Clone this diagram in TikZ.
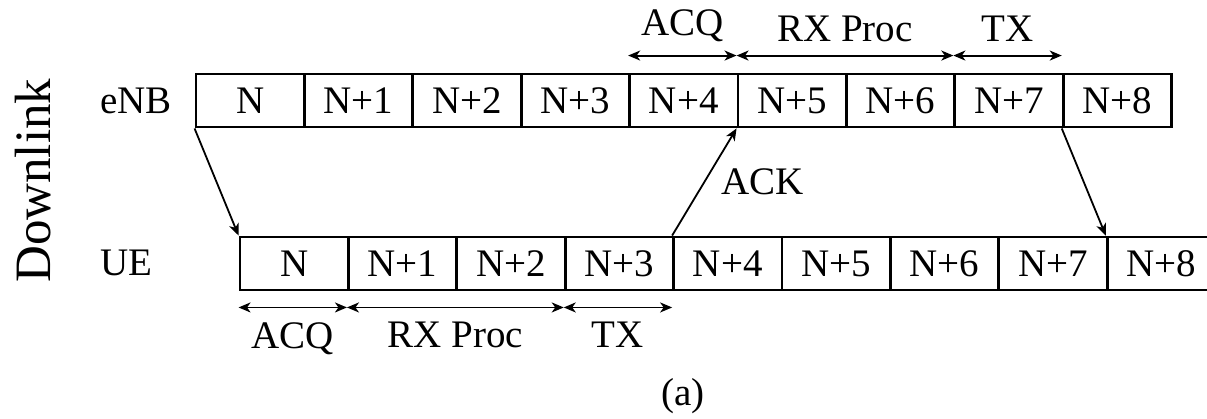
\documentclass[tikz,border=0pt]{standalone}
\usepackage{fontspec}
\setmainfont{Liberation Serif}
\usetikzlibrary{arrows.meta}

\begin{document}
\begin{tikzpicture}[x=1pt, y=-1pt,
  every node/.style={font=\fontsize{39pt}{47pt}\selectfont},
  slot/.style={draw, line width=2.9pt, minimum width=108.4pt, minimum height=53pt,
               inner sep=0pt, anchor=center},
  rowlabel/.style={anchor=base west, inner sep=0pt},
  phase/.style={inner sep=13pt},
  dim/.style={line width=1.9pt, {Stealth[length=12pt,width=10pt,inset=3.5pt]}-{Stealth[length=12pt,width=10pt,inset=3.5pt]}},
  conn/.style={line width=1.8pt, -{Stealth[length=12pt,width=10pt,inset=3.5pt]}}]

  \clip (0,0) rectangle (1207,418);

  % side labels
  \node[anchor=base west, inner sep=0pt, rotate=90, font=\fontsize{51pt}{60pt}\selectfont]
    (dl) at (50,283) {Downlink};
  \node[rowlabel] (enb) at (100,113) {eNB};
  \node[rowlabel] (ue)  at (100,275) {UE};

  % subframe rows
  \foreach \i/\t in {0/N,1/N+1,2/N+2,3/N+3,4/N+4,5/N+5,6/N+6,7/N+7,8/N+8} {
    \node[slot] (e\i) at ({196+108.4*(\i+0.5)},100.5) {\t};
    \node[slot] (u\i) at ({240+108.4*(\i+0.5)},263.5) {\t};
  }

  % transmissions between eNB and UE
  \draw[conn] (e0.south west) -- (u0.north west);
  \draw[conn] (u4.north west) -- node[right, inner sep=0pt, xshift=16pt] (ack) {ACK} (e5.south west);
  \draw[conn] (e8.south west) -- (u8.north west);

  % processing phases at the eNB
  \coordinate (t0) at ([yshift=17pt]e4.north west);
  \coordinate (t1) at ([yshift=17pt]e5.north west);
  \coordinate (t2) at ([yshift=17pt]e7.north west);
  \coordinate (t3) at ([yshift=17pt]e8.north west);
  \draw[dim] (t0) -- node[above, phase] (tacq) {ACQ} (t1);
  \draw[dim] (t1) -- node[above, phase] (trx) {RX Proc} (t2);
  \draw[dim] (t2) -- node[above, phase] (ttx) {TX} (t3);

  % processing phases at the UE
  \coordinate (b0) at ([yshift=-16pt]u0.south west);
  \coordinate (b1) at ([yshift=-16pt]u1.south west);
  \coordinate (b2) at ([yshift=-16pt]u3.south west);
  \coordinate (b3) at ([yshift=-16pt]u4.south west);
  \draw[dim] (b0) -- node[below, phase, inner sep=14pt] (bacq) {ACQ} (b1);
  \draw[dim] (b1) -- node[below, phase, inner sep=14pt] (brx) {RX Proc} (b2);
  \draw[dim] (b2) -- node[below, phase, inner sep=14pt] (btx) {TX} (b3);

  % caption
  \node[anchor=base, inner sep=0pt] (cap) at (683,405) {(a)};
\end{tikzpicture}
\end{document}
